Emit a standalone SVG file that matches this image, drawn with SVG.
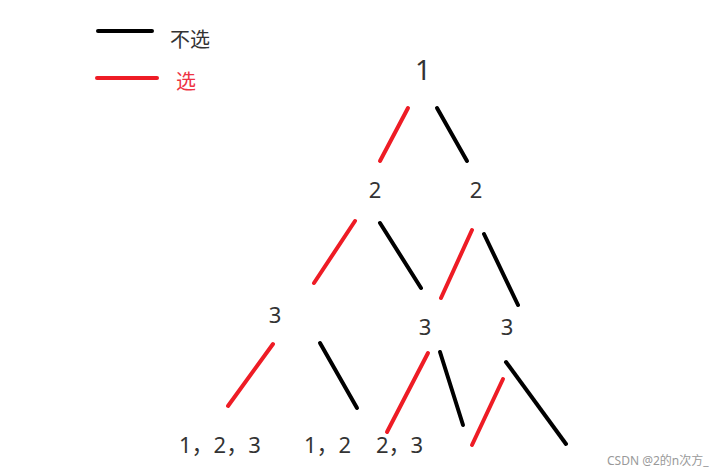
<svg xmlns="http://www.w3.org/2000/svg" width="726" height="473" viewBox="0 0 726 473">
<style>
.k{stroke:#000;stroke-width:4;stroke-linecap:round;fill:none}
.r{stroke:#ee1c25;stroke-width:4;stroke-linecap:round;fill:none}
text{font-family:"Noto Sans","Noto Sans CJK SC",sans-serif;fill:#333}
.n{font-size:22px;text-anchor:middle}
.b{font-size:22px}
</style>
<rect width="726" height="473" fill="#fff"/>
<g id="legend">
<line class="k" x1="98" y1="31" x2="152" y2="31"/>
<text x="170" y="47" font-size="20">不选</text>
<line class="r" x1="97" y1="78" x2="157" y2="78"/>
<text x="176" y="89" font-size="20" style="fill:#ee3344">选</text>
</g>
<g id="n1"><text class="n" x="423" y="80" style="font-size:28px">1</text></g>
<g id="n2a"><text class="n" x="375" y="198">2</text></g>
<g id="n2b"><text class="n" x="476" y="198">2</text></g>
<g id="n3a"><text class="n" x="275" y="323">3</text></g>
<g id="n3b"><text class="n" x="425" y="335">3</text></g>
<g id="n3c"><text class="n" x="507" y="335">3</text></g>
<g id="r1"><text class="b" x="179" y="453">1，2，3</text></g>
<g id="r2"><text class="b" x="304" y="453">1，2</text></g>
<g id="r3"><text class="b" x="376" y="453">2，3</text></g>
<g id="connectors">
<line class="r" x1="408" y1="108" x2="380" y2="161"/>
<line class="k" x1="437" y1="108" x2="467" y2="161"/>
<line class="r" x1="355" y1="221" x2="314" y2="283"/>
<line class="k" x1="380" y1="223" x2="421" y2="288"/>
<line class="r" x1="472" y1="230" x2="441" y2="298"/>
<line class="k" x1="484" y1="234" x2="518" y2="305"/>
<line class="r" x1="273" y1="344" x2="228" y2="406"/>
<line class="k" x1="320" y1="343" x2="357" y2="408"/>
<line class="r" x1="428" y1="353" x2="387" y2="432"/>
<line class="k" x1="440" y1="352" x2="463" y2="425"/>
<line class="r" x1="503" y1="379" x2="472" y2="445"/>
<line class="k" x1="506" y1="362" x2="566" y2="444"/>
</g>
<text x="607" y="465" font-size="12" style="fill:#999">CSDN @2的n次方_</text>
</svg>
